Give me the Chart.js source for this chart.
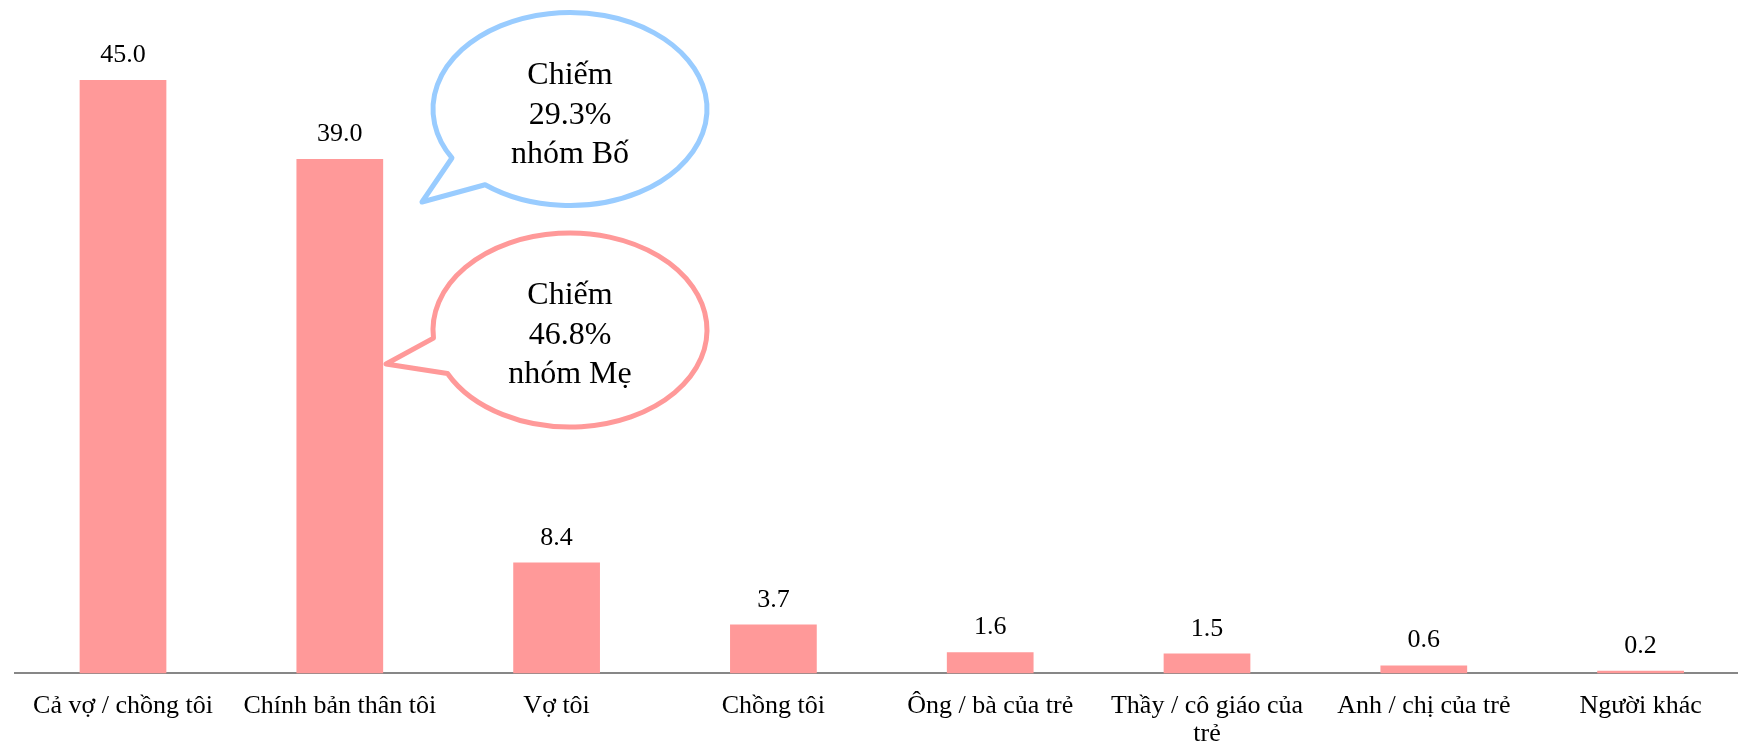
<!DOCTYPE html>
<html>
<head>
<meta charset="utf-8">
<script src="https://cdn.jsdelivr.net/npm/chart.js@4"></script>
<style>
  html, body { margin: 0; padding: 0; background: #fff; }
  #wrap { width: 1738px; height: 747px; overflow: hidden; position: relative; }
  canvas { display: block; }
</style>
</head>
<body>
<div id="wrap"><canvas id="chart" width="1750" height="767" style="width:1750px;height:767px"></canvas></div>
<script>
// Data (%)
const categories = [
  'Cả vợ / chồng tôi',
  'Chính bản thân tôi',
  'Vợ tôi',
  'Chồng tôi',
  'Ông / bà của trẻ',
  ['Thầy / cô giáo của', 'trẻ'],
  'Anh / chị của trẻ',
  'Người khác',
];
const values = [45.0, 39.0, 8.4, 3.7, 1.6, 1.5, 0.6, 0.2];
const fatherNote = ['Chiếm', '29.3%', 'nhóm Bố'];
const motherNote = ['Chiếm', '46.8%', 'nhóm Mẹ'];

const SERIF = "'Liberation Serif', 'Times New Roman', serif";
const BAR = '#FF9999';
const AXIS = '#878787';

// speech bubbles: ellipse + tail (angles in degrees, canvas pixels)
const BUBBLES = [
  { lines: fatherNote, color: '#99CCFF', cx: 570, cy: 109, rx: 137, ry: 96.5,
    from: 149.5, to: 128.3, tip: [422, 202], base: 84, gap: 39.5 },
  { lines: motherNote, color: '#FF9999', cx: 570, cy: 330, rx: 137, ry: 97,
    from: 175.2, to: 153.4, tip: [386, 364], base: 304, gap: 39.5 },
];

function drawBubble(ctx, b) {
  const rad = d => d * Math.PI / 180;
  ctx.save();
  ctx.beginPath();
  ctx.ellipse(b.cx, b.cy, b.rx, b.ry, 0, rad(b.from), rad(b.to), false);
  ctx.lineTo(b.tip[0], b.tip[1]);
  ctx.closePath();
  ctx.fillStyle = '#fff';
  ctx.fill();
  ctx.lineWidth = 5;
  ctx.lineJoin = 'round';
  ctx.strokeStyle = b.color;
  ctx.stroke();
  ctx.fillStyle = '#000';
  ctx.font = '32px ' + SERIF;
  ctx.textAlign = 'center';
  ctx.textBaseline = 'alphabetic';
  b.lines.forEach((t, i) => ctx.fillText(t, b.cx, b.base + i * b.gap));
  ctx.restore();
}

const bubbleLayer = {
  id: 'bubbleLayer',
  afterDraw(chart) {
    for (const b of BUBBLES) drawBubble(chart.ctx, b);
  },
};

const valueLabels = {
  id: 'valueLabels',
  afterDatasetsDraw(chart) {
    const ctx = chart.ctx;
    const meta = chart.getDatasetMeta(0);
    ctx.save();
    ctx.font = '26px ' + SERIF;
    ctx.fillStyle = '#000';
    ctx.textAlign = 'center';
    ctx.textBaseline = 'alphabetic';
    meta.data.forEach((bar, i) => ctx.fillText(values[i].toFixed(1), bar.x, bar.y - 18));
    ctx.restore();
  },
};

new Chart(document.getElementById('chart'), {
  type: 'bar',
  data: {
    labels: categories,
    datasets: [{
      data: values,
      backgroundColor: BAR,
      borderWidth: 0,
      categoryPercentage: 1,
      barPercentage: 0.4,
    }],
  },
  options: {
    responsive: false,
    devicePixelRatio: 1,
    animation: false,
    layout: { padding: { left: 14.6, right: 1, top: 14, bottom: 0 } },
    plugins: { legend: { display: false }, tooltip: { enabled: false } },
    scales: {
      x: {
        grid: { display: false, drawTicks: false },
        border: { display: true, color: AXIS, width: 2 },
        ticks: {
          color: '#000',
          font: { family: SERIF, size: 26, lineHeight: 1.05 },
          padding: 19.5,
          autoSkip: false,
          maxRotation: 0,
        },
      },
      y: { display: false, min: 0, max: 50 },
    },
  },
  plugins: [valueLabels, bubbleLayer],
});
</script>
</body>
</html>
